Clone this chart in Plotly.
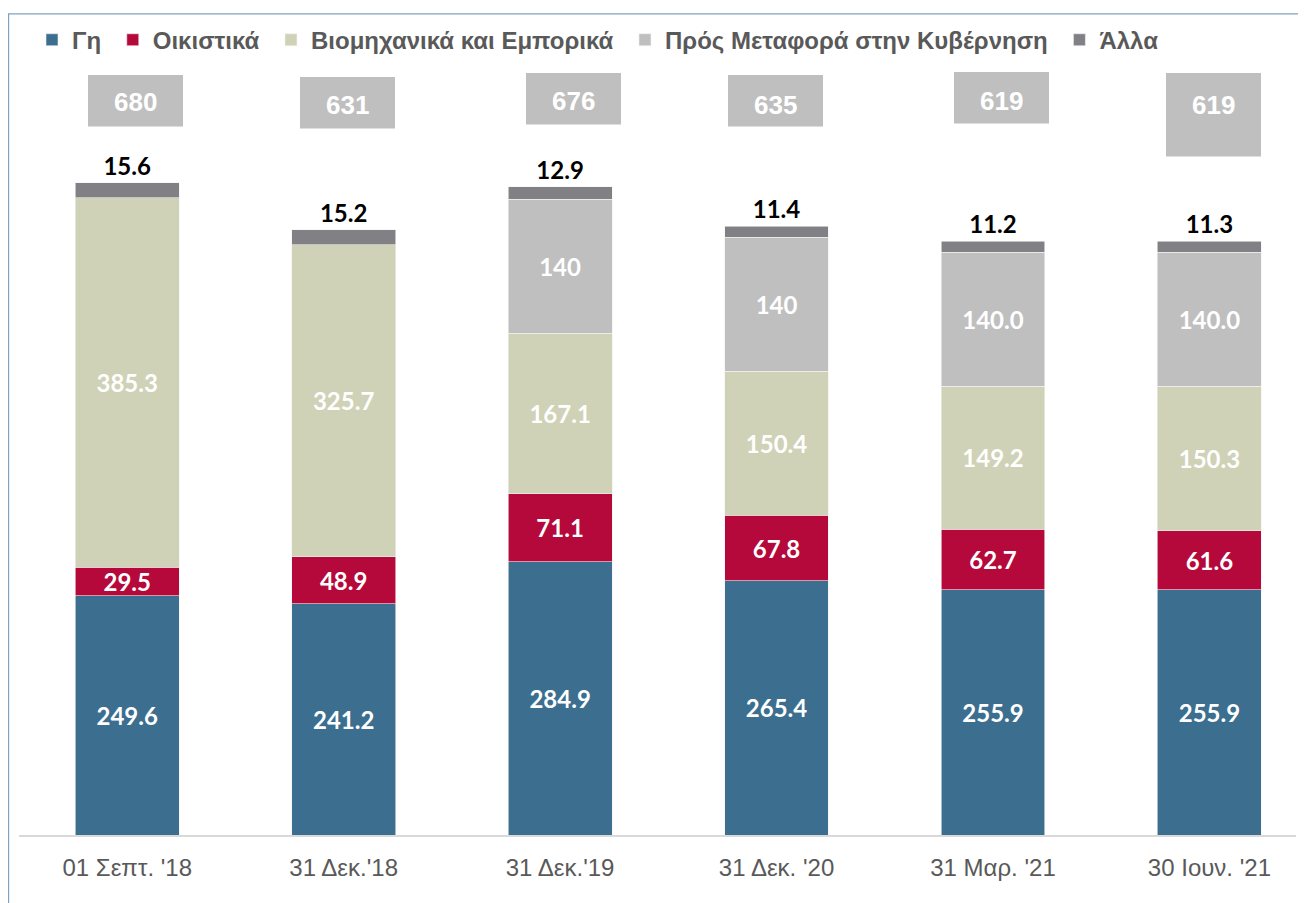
import plotly.graph_objects as go

# data
categories = ["01 Σεπτ. '18", "31 Δεκ.'18", "31 Δεκ.'19", "31 Δεκ. '20", "31 Μαρ. '21", "30 Ιουν. '21"]
land = [249.6, 241.2, 284.9, 265.4, 255.9, 255.9]
residential = [29.5, 48.9, 71.1, 67.8, 62.7, 61.6]
industrial = [385.3, 325.7, 167.1, 150.4, 149.2, 150.3]
transfer = [0, 0, 140, 140, 140.0, 140.0]
transfer_labels = ["", "", "140", "140", "140.0", "140.0"]
other = [15.6, 15.2, 12.9, 11.4, 11.2, 11.3]
totals = ["680", "631", "676", "635", "619", "619"]

# the page puts the figure 8px in from the top-left corner
OFF = 8
W, H = 1306 - OFF, 903 - OFF
PL, PR, PT, PB = 19, 1296, 60, 835  # plot area in page pixels
NBSP = "\u00a0"  # widens the gap between legend entries


def px_x(px):
    return (px - PL) / (PR - PL)


def px_y(py):
    return (PB - py) / (PB - PT)


# total boxes: (x0, x1, y0, y1, text_y) in page pixels
box_px = [
    (88, 183, 70, 122, 97),
    (300, 395, 72, 124, 100),
    (526, 621, 68, 120, 96),
    (728, 823, 70, 122, 100),
    (954, 1049, 67, 119, 96),
    (1166, 1261, 68, 152, 100),
]

label_font = dict(family="Lato, Open Sans, sans-serif", size=24, color="white", weight="bold")


def fmt(vals):
    return [f"{v:.1f}" for v in vals]


fig = go.Figure()
series = [
    ("Γη", land, fmt(land), "#3B6E8F"),
    ("Οικιστικά", residential, fmt(residential), "#B5093B"),
    ("Βιομηχανικά και Εμπορικά", industrial, fmt(industrial), "#CFD2B6"),
    ("Πρός Μεταφορά στην Κυβέρνηση", transfer, transfer_labels, "#BFBFBF"),
]
for name, vals, txt, col in series:
    fig.add_trace(go.Bar(
        x=list(range(len(categories))), y=vals, name=name + NBSP, text=txt,
        textposition="inside", insidetextanchor="middle", textangle=0,
        textfont=label_font, constraintext="none",
        marker=dict(color=col, line=dict(color="#F2F2F2", width=0.6)),
        width=0.48, hoverinfo="y+name",
    ))
fig.add_trace(go.Bar(
    x=list(range(len(categories))), y=other, name="Άλλα", text=fmt(other),
    textposition="outside", textangle=0, constraintext="none", cliponaxis=False,
    textfont=dict(family="Lato, Open Sans, sans-serif", size=24, color="black", weight="bold"),
    marker=dict(color="#818185", line=dict(color="#F2F2F2", width=0.6)),
    width=0.48, hoverinfo="y+name",
))

shapes = [dict(type="rect", xref="paper", yref="paper",
               x0=px_x(OFF + 0.6), x1=px_x(1330), y0=px_y(OFF + 0.6), y1=px_y(930),
               line=dict(color="#7FA3C0", width=1.2), fillcolor="rgba(0,0,0,0)", layer="below")]
annotations = []
for (x0, x1, y0, y1, ty), t in zip(box_px, totals):
    shapes.append(dict(type="rect", xref="paper", yref="paper",
                       x0=px_x(x0), x1=px_x(x1), y0=px_y(y1), y1=px_y(y0),
                       fillcolor="#BFBFBF", line=dict(width=0)))
    annotations.append(dict(xref="paper", yref="paper", x=px_x((x0 + x1) / 2), y=px_y(ty),
                            text=f"<b>{t}</b>", showarrow=False, xanchor="center", yanchor="middle",
                            font=dict(family="Liberation Sans, Arial, sans-serif", size=26, color="white")))

fig.update_layout(
    width=W, height=H,
    barmode="stack",
    plot_bgcolor="white", paper_bgcolor="white",
    margin=dict(l=PL - OFF, r=W - (PR - OFF), t=PT - OFF, b=H - (PB - OFF)),
    uniformtext=dict(minsize=24, mode="show"),
    showlegend=True,
    legend=dict(orientation="h", x=px_x(32), xanchor="left", y=px_y(35), yanchor="middle",
                traceorder="normal", itemwidth=30,
                font=dict(family="Liberation Sans, Arial, sans-serif", size=24, color="#595959",
                          weight="bold")),
    xaxis=dict(range=[-0.5, 5.4], tickmode="array", tickvals=list(range(len(categories))),
               ticktext=categories, showline=True, linecolor="#D9D9D9", linewidth=1.5,
               showgrid=False, zeroline=False, ticks="", ticklabelstandoff=10,
               tickfont=dict(family="Liberation Sans, Arial, sans-serif", size=24, color="#595959")),
    yaxis=dict(range=[0, 803], visible=False, showgrid=False, zeroline=False),
    shapes=shapes,
    annotations=annotations,
)

fig.write_html("out.html")
